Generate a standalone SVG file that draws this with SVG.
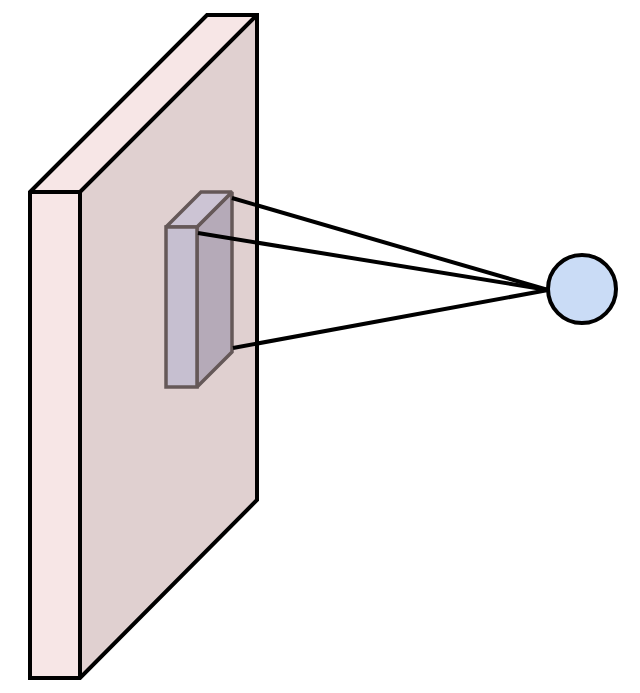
<svg xmlns="http://www.w3.org/2000/svg" width="640" height="693" viewBox="0 0 640 693">
<style>
.big{stroke:#000;stroke-width:4;stroke-linejoin:miter;stroke-miterlimit:2;fill:none}
.small{stroke:#655858;stroke-width:3.5;stroke-linejoin:miter;stroke-miterlimit:2}
.conn{stroke:#000;stroke-width:4;fill:none}
</style>
<rect width="640" height="693" fill="#fff"/>
<g id="slab">
<polygon points="80,192 257,15 257,500 80,678" fill="#e0d0d0"/>
<polygon points="30,192 207,15 257,15 80,192" fill="#f7e6e6"/>
<rect x="30" y="192" width="50" height="486" fill="#f7e6e6"/>
<path class="big" d="M30,192 L207,15 L257,15 L257,500 L80,678 L30,678 Z"/>
<path class="big" d="M30,192 L80,192 L257,15 M80,192 L80,678"/>
</g>
<g id="kernel">
<polygon class="small" points="197,227 232,192 232,352 197,387" fill="#b5aab8"/>
<polygon class="small" points="166,227 201,192 232,192 197,227" fill="#ccc4d4"/>
<rect class="small" x="166" y="227" width="31" height="160" fill="#c6bfd0"/>
</g>
<g id="connectors">
<line class="conn" x1="232" y1="198" x2="548" y2="290"/>
<line class="conn" x1="198" y1="233" x2="548" y2="290"/>
<line class="conn" x1="233" y1="348" x2="548" y2="290"/>
</g>
<g id="neuron">
<circle cx="582" cy="289" r="34" fill="#cadcf6" stroke="#000" stroke-width="4"/>
</g>
</svg>
